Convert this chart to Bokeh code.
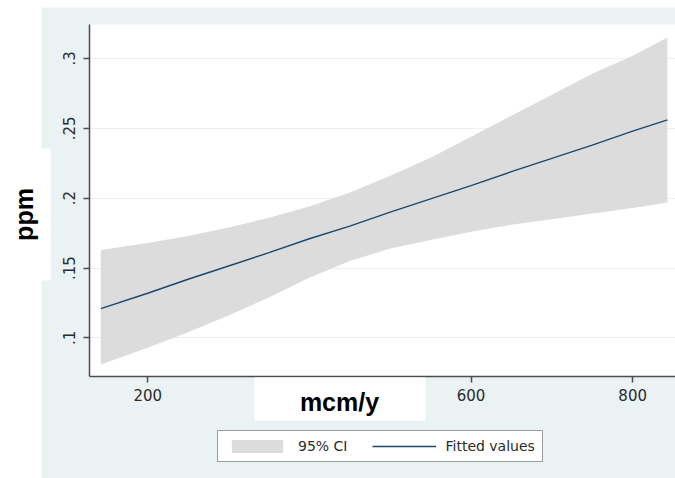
from bokeh.plotting import figure
from bokeh.models import BoxAnnotation, Label, Legend, LegendItem, FixedTicker, Range1d, ColumnDataSource
from bokeh.embed import file_html
from bokeh.resources import INLINE

# ---- data ----
mcm = [142, 200, 250, 300, 350, 400, 450, 500, 550, 600, 650, 700, 750, 800, 843]
fitted = [0.121, 0.132, 0.142, 0.1515, 0.161, 0.171, 0.180, 0.190, 0.1995,
          0.209, 0.219, 0.2285, 0.238, 0.248, 0.256]
ci_upper = [0.163, 0.168, 0.173, 0.179, 0.186, 0.194, 0.204, 0.216, 0.229,
            0.244, 0.259, 0.274, 0.289, 0.302, 0.315]
ci_lower = [0.081, 0.093, 0.104, 0.116, 0.129, 0.143, 0.155, 0.164, 0.170,
            0.176, 0.181, 0.185, 0.189, 0.193, 0.197]

x_ticks = [200, 600, 800]
y_ticks = [0.1, 0.15, 0.2, 0.25, 0.3]
y_tick_labels = [".1", ".15", ".2", ".25", ".3"]
legend_labels = ["95% CI", "Fitted values"]
x_title = "mcm/y"
y_title = "ppm"

# visible plot window (data) and its pixel box on the canvas
x_lo, x_hi = 128.0, 853.0
y_lo, y_hi = 0.0724, 0.3243
W, H = 675, 478
PL, PR, PT, PB = 89, 675, 24, 376

sx = (x_hi - x_lo) / (PR - PL)
sy = (y_hi - y_lo) / (PB - PT)
xr = Range1d(x_lo - PL * sx, x_lo + (W - PL) * sx)
yr = Range1d(y_lo - (H - PB) * sy, y_hi + PT * sy)

src = ColumnDataSource(dict(x=mcm, fit=fitted, lo=ci_lower, hi=ci_upper))

BG = "#eaf2f3"
p = figure(width=W, height=H, output_backend="svg", toolbar_location=None, title=None,
           x_range=xr, y_range=yr,
           min_border_left=0, min_border_right=0, min_border_top=0, min_border_bottom=0)
p.border_fill_color = "white"
p.background_fill_color = "white"
p.outline_line_color = None


def box(x0, x1, y0, y1, level):
    # page pixel box -> frame screen units (y measured from bottom)
    return BoxAnnotation(left=x0, right=x1, top=H - y0, bottom=H - y1,
                         left_units="screen", right_units="screen",
                         top_units="screen", bottom_units="screen",
                         fill_color=None, fill_alpha=1, line_alpha=0, level=level)


bg_box = box(41, W, 7, H, "underlay"); bg_box.fill_color = BG
plot_box = box(PL, W, PT, PB, "underlay"); plot_box.fill_color = "white"

band = p.varea(x="x", y1="lo", y2="hi", source=src, fill_color="#dcdcdc", fill_alpha=1)
fit = p.line(x="x", y="fit", source=src, line_color="#1a476f", line_width=1.4)

xa, ya = p.xaxis[0], p.yaxis[0]
xa.fixed_location = y_lo
ya.fixed_location = x_lo
xa.bounds = (x_lo, x_hi)
ya.bounds = (y_lo, y_hi)
for ax in (xa, ya):
    ax.axis_line_color = "#4d4d4d"
    ax.axis_line_width = 1.5
    ax.major_tick_line_color = "#4d4d4d"
    ax.major_tick_line_width = 1.5
    ax.major_tick_out = 6
    ax.major_tick_in = 0
    ax.minor_tick_line_color = None
    ax.major_label_text_font = "DejaVu Sans"
    ax.major_label_text_font_size = "15px"
    ax.major_label_text_color = "#2b2b2b"
xa.major_label_standoff = 6
ya.major_label_standoff = 8

xa.ticker = FixedTicker(ticks=x_ticks)
ya.ticker = FixedTicker(ticks=y_ticks)
ya.major_label_overrides = {t: l for t, l in zip(y_ticks, y_tick_labels)}
ya.major_label_orientation = "vertical"

p.xgrid.visible = False
yg = p.ygrid[0]
yg.grid_line_color = "#e9f0f2"
yg.grid_line_width = 1
yg.cross_bounds = (x_lo, x_hi)

legend = Legend(items=[LegendItem(label=legend_labels[0], renderers=[band]),
                       LegendItem(label=legend_labels[1], renderers=[fit])],
                orientation="horizontal", location=(217, H - 462),
                border_line_color="#3c3c3c", border_line_width=1.5,
                background_fill_color="white", background_fill_alpha=1,
                glyph_width=64, glyph_height=16, label_standoff=9, spacing=25,
                padding=7, margin=0,
                label_text_font="DejaVu Sans", label_text_font_size="14px",
                label_text_color="#2b2b2b")

ppm_box = box(0, 50, 148, 280, "overlay"); ppm_box.fill_color = "white"
mcm_box = box(254, 425, 377, 420, "overlay"); mcm_box.fill_color = "white"

xlab = Label(x=339, y=H - 401, x_units="screen", y_units="screen", text=x_title,
             text_font="Liberation Sans", text_font_style="bold", text_font_size="25px",
             text_align="center", text_baseline="middle", text_color="black", level="overlay")
ylab = Label(x=23, y=H - 214, x_units="screen", y_units="screen", text=y_title,
             angle=90, angle_units="deg",
             text_font="Liberation Sans", text_font_style="bold", text_font_size="25px",
             text_align="center", text_baseline="middle", text_color="black", level="overlay")

# background boxes first, then grid, then the rest
others = [r for r in p.center if r is not yg and r is not p.xgrid[0]]
p.center = [bg_box, plot_box, p.xgrid[0], yg] + others
for r in (legend, ppm_box, mcm_box, xlab, ylab):
    p.add_layout(r)

open("out.html", "w").write(file_html(p, INLINE))
